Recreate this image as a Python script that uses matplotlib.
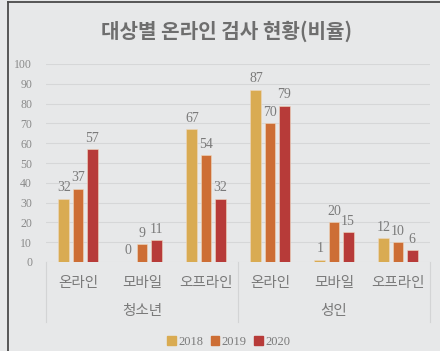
import numpy as np
import matplotlib.pyplot as plt
from matplotlib.lines import Line2D
from matplotlib.patches import Rectangle

plt.rcParams["font.family"] = ["Noto Sans CJK KR", "DejaVu Sans"]

groups = ["청소년", "성인"]
channels = ["온라인", "모바일", "오프라인"]
years = ["2018", "2019", "2020"]
v2018 = [32, 0, 67, 87, 1, 12]
v2019 = [37, 9, 54, 70, 20, 10]
v2020 = [57, 11, 32, 79, 15, 6]
colors = ["#d9ab52", "#cd6e35", "#b73b39"]

bg = "#e7e8e9"
grey = "#7a7a7a"
serif = "Liberation Serif"

fig = plt.figure(figsize=(4.4, 3.51), dpi=100, facecolor=bg)
ax = fig.add_axes([46 / 440, 89 / 351, 384 / 440, 198 / 351])
ax.set_facecolor(bg)

x = np.arange(len(v2018))
width = 0.17
step = 0.22
for i, (vals, c, yr) in enumerate(zip([v2018, v2019, v2020], colors, years)):
    pos = x + (i - 1) * step
    ax.bar(pos, vals, width, color=c, edgecolor="#efd9c0", linewidth=0.4,
           label=yr, zorder=3)
    for xp, v in zip(pos, vals):
        ax.text(xp, v + 2.3, str(v), ha="center", va="bottom",
                fontsize=10, color=grey, family=serif)

ax.set_xlim(-0.5, len(x) - 0.5)
ax.set_ylim(0, 100)
ax.set_yticks(np.arange(0, 101, 10))
ax.tick_params(axis="y", length=0, pad=10, labelsize=8.5, labelcolor="#8a8a8a")
for lab in ax.get_yticklabels():
    lab.set_family(serif)
ax.yaxis.grid(True, color="#d6d7d8", linewidth=0.8, zorder=0)
for s in ax.spines.values():
    s.set_visible(False)

ax.set_xticks(x)
ax.set_xticklabels(channels * 2, fontsize=10.5, color=grey)
ax.tick_params(axis="x", length=0, pad=10)

# group labels and separators below the axis
trans = ax.get_xaxis_transform()
for gi, g in enumerate(groups):
    ax.text(gi * 3 + 1, -0.25, g, transform=trans, ha="center", va="center",
            fontsize=10.5, color=grey, clip_on=False)
for xs in [-0.5, 2.5, 5.5]:
    ax.add_line(Line2D([xs, xs], [0, -0.305], transform=trans, color="#d3d4d5",
                       linewidth=0.8, clip_on=False))

fig.text(0.515, 0.912, "대상별 온라인 검사 현황(비율)", ha="center", va="center",
         fontsize=14.5, fontweight="bold", color="#6e6e6e")

handles = [Rectangle((0, 0), 1, 1, color=c) for c in colors]
leg = fig.legend(handles, years, loc="center", bbox_to_anchor=(0.52, 0.025),
                 ncol=3, frameon=False, handlelength=0.7,
                 handleheight=0.7, handletextpad=0.2, columnspacing=0.6,
                 prop={"family": serif, "size": 9})
for t in leg.get_texts():
    t.set_color(grey)

# frame edges
fig.add_artist(Line2D([8 / 440, 8 / 440], [0, 1 - 2 / 351], color="#4a4a4a",
                      linewidth=1.3, transform=fig.transFigure))
fig.add_artist(Line2D([8 / 440, 1], [1 - 2 / 351, 1 - 2 / 351], color="#4a4a4a",
                      linewidth=1.3, transform=fig.transFigure))

fig.savefig("out.png", dpi=100, facecolor=bg)
